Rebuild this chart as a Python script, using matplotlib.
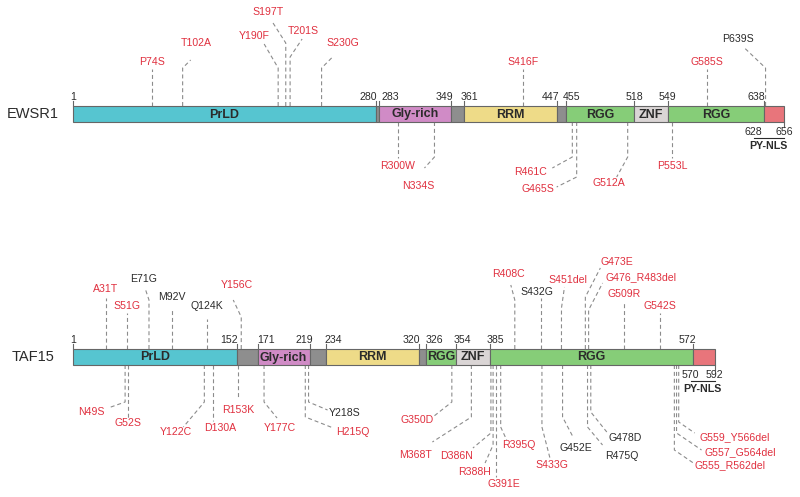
import matplotlib
matplotlib.use("Agg")
import matplotlib.pyplot as plt

plt.rcParams["font.family"] = ["Liberation Sans", "DejaVu Sans"]

RED = "#E0303F"
DARK = "#2b2b2b"
DASH = "#8c8c8c"
EDGE = "#666666"

DOMAIN_COLORS = {
    "PrLD": "#56C5D0",
    "Gly-rich": "#D08BC6",
    "RRM": "#EEDB88",
    "RGG": "#86CD78",
    "ZNF": "#DAD5D5",
    "linker": "#8E8E8E",
    "NLS": "#E8757B",
}

# ---- EWSR1 ----
ewsr1_starts = [1, 280, 283, 349, 361, 447, 455, 518, 549, 638]
ewsr1_ends = [280, 283, 349, 361, 447, 455, 518, 549, 638, 656]
ewsr1_kinds = ["PrLD", "linker", "Gly-rich", "linker", "RRM", "linker", "RGG", "ZNF", "RGG", "NLS"]
ewsr1_nls = (628, 656)
ewsr1_mut = ["P74S", "T102A", "Y190F", "S197T", "T201S", "S230G", "S416F", "G585S", "P639S",
             "R300W", "N334S", "R461C", "G465S", "G512A", "P553L"]
ewsr1_pos = [74, 102, 190, 197, 201, 230, 416, 585, 639,
             300, 334, 461, 465, 512, 553]
ewsr1_side = ["up"] * 9 + ["down"] * 6
ewsr1_black = ["P639S"]

# ---- TAF15 ----
taf15_starts = [1, 152, 171, 219, 234, 320, 326, 354, 385, 572]
taf15_ends = [152, 171, 219, 234, 320, 326, 354, 385, 572, 592]
taf15_kinds = ["PrLD", "linker", "Gly-rich", "linker", "RRM", "linker", "RGG", "ZNF", "RGG", "NLS"]
taf15_nls = (570, 592)
taf15_mut = ["A31T", "S51G", "E71G", "M92V", "Q124K", "Y156C", "R408C", "S432G", "S451del",
             "G473E", "G476_R483del", "G509R", "G542S",
             "N49S", "G52S", "Y122C", "D130A", "R153K", "Y177C", "H215Q", "Y218S",
             "G350D", "M368T", "D386N", "R388H", "G391E", "R395Q", "S433G", "G452E",
             "R475Q", "G478D", "G555_R562del", "G557_G564del", "G559_Y566del"]
taf15_pos = [31, 51, 71, 92, 124, 156, 408, 432, 451,
             473, 476, 509, 542,
             49, 52, 122, 130, 153, 177, 215, 218,
             350, 368, 386, 388, 391, 395, 433, 452,
             475, 478, 555, 557, 559]
taf15_side = ["up"] * 13 + ["down"] * 21
taf15_black = ["E71G", "M92V", "Q124K", "S432G", "Y218S", "G452E", "R475Q", "G478D"]

# ---- layout (pixels of the 800x497 canvas) ----
X0, S = 73, 1.0855          # pixel of residue 1, pixels per residue
BAR_H = 16
# label: (elbow_y, end_dx, end_y, text_dx, text_y)
ewsr1_layout = {
    "P74S": (69, 0, 69, 0, 62), "T102A": (68, 8, 60, 14, 43),
    "Y190F": (68, -14, 44, -24, 36), "S197T": (43, -14, 21, -18, 12),
    "T201S": (57, 12, 39, 13, 31), "S230G": (68, 11, 57, 21, 43),
    "S416F": (69, 0, 69, 0, 62), "G585S": (69, 0, 69, 0, 62),
    "P639S": (68, -21, 48, -28, 39),
    "R300W": (158, 0, 158, 0, 166), "N334S": (157, -10, 168, -16, 186),
    "R461C": (157, -20, 168, -42, 172), "G465S": (177, -20, 187, -39, 189),
    "G512A": (157, -11, 177, -19, 183), "P553L": (158, 0, 158, 0, 166),
}
taf15_layout = {
    "A31T": (298, 0, 298, 0, 289), "S51G": (313, 0, 313, 0, 306),
    "E71G": (300, -4, 288, -5, 279), "M92V": (309, 0, 309, 0, 297),
    "Q124K": (319, 0, 319, 0, 306), "Y156C": (317, -8, 300, -4, 285),
    "R408C": (300, -4, 285, -6, 274), "S432G": (298, 0, 298, -4, 292),
    "S451del": (308, 3, 287, 6, 280), "G473E": (297, 15, 268, 32, 262),
    "G476_R483del": (310, 14, 283, 52, 277), "G509R": (301, 0, 301, 0, 294),
    "G542S": (313, 0, 313, 0, 306),
    "N49S": (402, -17, 408, -34, 412), "G52S": (418, 0, 418, 0, 423),
    "Y122C": (402, -21, 427, -29, 432), "D130A": (421, 0, 421, 7, 428),
    "R153K": (398, 0, 398, 0, 410), "Y177C": (402, 13, 418, 16, 428),
    "H215Q": (417, 28, 428, 48, 432), "Y218S": (402, 19, 410, 36, 413),
    "G350D": (402, -19, 417, -35, 420), "M368T": (417, -39, 442, -56, 455),
    "D386N": (433, -18, 448, -34, 456), "R388H": (445, -8, 463, -19, 472),
    "G391E": (477, 0, 477, 8, 484), "R395Q": (427, 6, 440, 18, 445),
    "S433G": (427, 8, 458, 10, 465), "G452E": (417, 11, 438, 13, 448),
    "R475Q": (427, 15, 445, 34, 456), "G478D": (412, 16, 432, 34, 438),
    "G555_R562del": (450, 19, 463, 56, 465), "G557_G564del": (433, 25, 450, 64, 452),
    "G559_Y566del": (422, 16, 433, 56, 437),
}
# top numbers: (residue, ha, dx px)
ewsr1_ticks = [(1, "center", 0), (280, "right", 1), (283, "left", 2), (349, "right", 2),
               (361, "left", -3), (447, "right", 2), (455, "left", -3), (518, "center", 0),
               (549, "center", 0), (638, "right", 1)]
taf15_ticks = [(1, "center", 0), (152, "right", 1), (171, "left", 0), (219, "right", 3),
               (234, "left", -1), (320, "right", 1), (326, "left", 0), (354, "left", -3),
               (385, "left", -3), (572, "right", 3)]


fig = plt.figure(figsize=(8, 4.97), dpi=100)
ax = fig.add_axes([0, 0, 1, 1])
ax.set_xlim(1 - X0 / S, 1 + (800 - X0) / S)
ax.set_ylim(497, 0)
ax.axis("off")


def draw_protein(name, top, starts, ends, kinds, nls, ticks, muts, pos, side, black, layout):
    bottom = top + BAR_H
    mid = top + BAR_H / 2
    widths = [e - s for s, e in zip(starts, ends)]
    ax.barh([mid] * len(starts), widths, left=starts, height=BAR_H,
            color=[DOMAIN_COLORS[k] for k in kinds], edgecolor=EDGE, linewidth=0.8, zorder=2)
    for s, e, k in zip(starts, ends, kinds):
        if k not in ("linker", "NLS"):
            ax.text((s + e) / 2, mid + 0.5, k, ha="center", va="center", fontsize=9,
                    fontweight="bold", color=DARK, zorder=3)
    ax.text(1 - 40 / S, mid, name, ha="center", va="center", fontsize=10.5, color=DARK)

    for r, ha, dx in ticks:
        ax.plot([r, r], [top, top - 5], color=EDGE, lw=0.8, zorder=1)
        ax.text(r + dx / S, top - 9, str(r), ha=ha, va="center", fontsize=7.6, color=DARK)

    # PY-NLS under the bar end
    ax.plot([nls[1], nls[1]], [bottom, bottom + 5], color=EDGE, lw=0.8)
    ax.text(nls[0], bottom + 10, str(nls[0]), ha="center", va="center", fontsize=7.6, color=DARK)
    ax.text(nls[1], bottom + 10, str(nls[1]), ha="center", va="center", fontsize=7.6, color=DARK)
    ax.plot([nls[0], nls[1]], [bottom + 16, bottom + 16], color=DARK, lw=0.8)
    ax.text((nls[0] + nls[1]) / 2, bottom + 24, "PY-NLS", ha="center", va="center",
            fontsize=7.7, fontweight="bold", color=DARK)

    for m, p, sd in zip(muts, pos, side):
        ey, edx, endy, tdx, ty = layout[m]
        y0 = top if sd == "up" else bottom
        xs = [p, p, p + edx / S]
        ys = [y0, ey, endy]
        ax.plot(xs, ys, color=DASH, lw=0.8, dashes=(3.6, 2.6), zorder=1)
        ax.text(p + tdx / S, ty, m, ha="center", va="center", fontsize=7.6,
                color=DARK if m in black else RED)


draw_protein("EWSR1", 106, ewsr1_starts, ewsr1_ends, ewsr1_kinds, ewsr1_nls, ewsr1_ticks,
             ewsr1_mut, ewsr1_pos, ewsr1_side, ewsr1_black, ewsr1_layout)
draw_protein("TAF15", 349, taf15_starts, taf15_ends, taf15_kinds, taf15_nls, taf15_ticks,
             taf15_mut, taf15_pos, taf15_side, taf15_black, taf15_layout)

fig.savefig("out.png", dpi=100, facecolor="white")
